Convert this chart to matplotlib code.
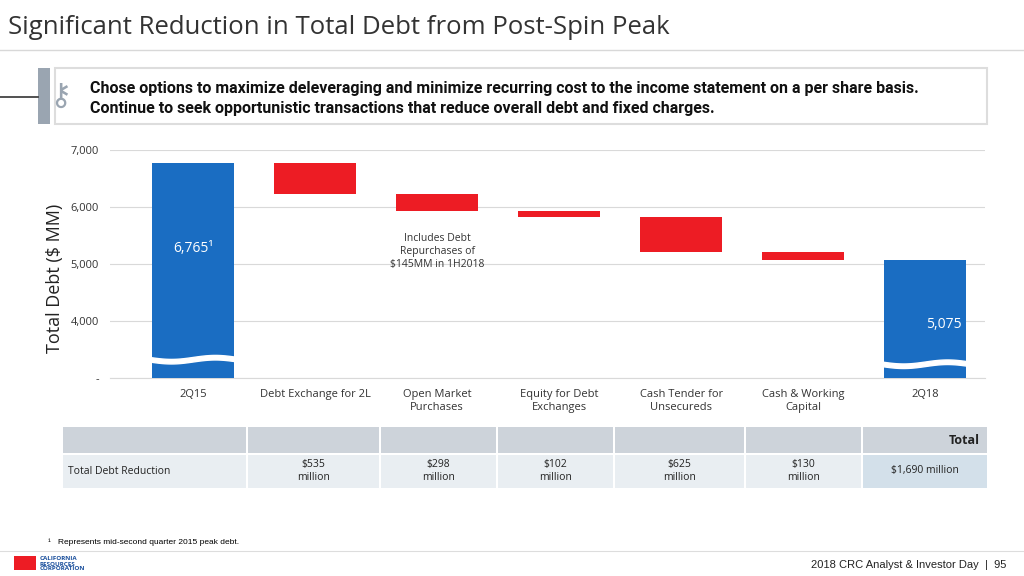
import numpy as np
import matplotlib.pyplot as plt
from matplotlib.patches import Rectangle

categories = ["2Q15", "Debt Exchange for 2L", "Open Market\nPurchases", "Equity for Debt\nExchanges",
              "Cash Tender for\nUnsecureds", "Cash & Working\nCapital", "2Q18"]
start_debt = 6765
reductions = [535, 298, 102, 625, 130]
end_debt = 5075
table_vals = ["$535\nmillion", "$298\nmillion", "$102\nmillion", "$625\nmillion", "$130\nmillion"]
total_text = "$1,690 million"
yticks = [3000, 4000, 5000, 6000, 7000]
ytick_labels = ["-", "4,000", "5,000", "6,000", "7,000"]
BASE = 3000  # broken axis: bottom of chart stands for 0

BLUE = "#1a6dc2"
RED = "#ed1c24"
plt.rcParams["font.family"] = ["Open Sans", "DejaVu Sans"]

fig = plt.figure(figsize=(10.24, 5.76), dpi=100)
W, H = 1024, 576


def fx(px):
    return px / W


def fy(py):
    return 1 - py / H


# header
fig.text(fx(8), fy(28), "Significant Reduction in Total Debt from Post-Spin Peak",
         fontsize=18.5, color="#333333", va="center")
fig.add_artist(plt.Line2D([0, 1], [fy(50), fy(50)], color="#d8d8d8", lw=1))
fig.add_artist(Rectangle((fx(55), fy(124)), fx(932), 56 / H, facecolor="white",
                         edgecolor="#dddddd", lw=1.5))
fig.add_artist(Rectangle((fx(38), fy(124)), fx(12), 56 / H, facecolor="#9aa5b1", lw=0))
fig.add_artist(plt.Line2D([0, fx(38)], [fy(97), fy(97)], color="#333333", lw=1.2))
fig.text(fx(60), fy(96), "\u26b7", fontsize=22, color="#9aa5b1", ha="center", va="center",
         family=["DejaVu Sans"])
fig.text(fx(90), fy(88), "Chose options to maximize deleveraging and minimize recurring cost to the income statement on a per share basis.",
         fontsize=11.5, weight="bold", family=["Roboto"], va="center", color="#111111")
fig.text(fx(90), fy(108), "Continue to seek opportunistic transactions that reduce overall debt and fixed charges.",
         fontsize=11.5, weight="bold", family=["Roboto"], va="center", color="#111111")

# waterfall
ax = fig.add_axes([fx(110), fy(378), fx(875), (378 - 150) / H])
x = np.arange(len(categories))
ax.bar(x[0], start_debt - BASE, bottom=BASE, width=0.67, color=BLUE, zorder=3)
level = start_debt
for i, r in enumerate(reductions):
    ax.bar(x[i + 1], r, bottom=level - r, width=0.67, color=RED, zorder=3)
    level -= r
ax.bar(x[-1], end_debt - BASE, bottom=BASE, width=0.67, color=BLUE, zorder=3)

# axis break waves
for xi, yc in [(0, 3330), (6, 3250)]:
    xs = np.linspace(xi - 0.36, xi + 0.36, 60)
    wave = 35 * np.sin((xs - xi) * 2 * np.pi / 0.72)
    ax.fill_between(xs, yc - 40 + wave, yc + 40 + wave, color="white", zorder=4)

ax.text(0, 5270, "6,765\u00b9", color="white", fontsize=10, ha="center", va="center", zorder=5)
ax.text(6.15, 3930, "5,075", color="white", fontsize=10, ha="center", va="center", zorder=5)
ax.text(2, 5220, "Includes Debt\nRepurchases of\n$145MM in 1H2018", fontsize=7.5,
        ha="center", va="center", linespacing=1.3, color="#333333")

ax.set_xlim(-0.68, 6.49)
ax.set_ylim(BASE, 7000)
ax.set_yticks(yticks)
ax.set_yticklabels(ytick_labels)
ax.set_xticks(x)
ax.set_xticklabels(categories)
ax.tick_params(length=0, labelsize=8, colors="#333333", pad=8)
ax.grid(axis="y", color="#d9d9d9", lw=0.8, zorder=0)
for s in ax.spines.values():
    s.set_visible(False)
ax.spines["bottom"].set_visible(True)
ax.spines["bottom"].set_color("#d9d9d9")
fig.text(fx(55), fy(278), "Total Debt ($ MM)", rotation=90, fontsize=13, ha="center", va="center",
         color="#222222")

# table
cols = [62, 247, 380, 497, 614, 745, 862, 988]
for i in range(len(cols) - 1):
    fig.add_artist(Rectangle((fx(cols[i] + 1), fy(453)), fx(cols[i + 1] - cols[i] - 2), 26 / H,
                             facecolor="#cdd3da", lw=0))
    face = "#d3e0ea" if i == len(cols) - 2 else "#e9eef2"
    fig.add_artist(Rectangle((fx(cols[i] + 1), fy(488)), fx(cols[i + 1] - cols[i] - 2), 33 / H,
                             facecolor=face, lw=0))
fig.text(fx(980), fy(440), "Total", fontsize=9, weight="bold", ha="right", va="center", color="#222222")
fig.text(fx(68), fy(471), "Total Debt Reduction", fontsize=7.5, va="center", color="#222222")
for i, v in enumerate(table_vals):
    fig.text(fx((cols[i + 1] + cols[i + 2]) / 2), fy(471), v, fontsize=7.5, ha="center",
             va="center", color="#222222", linespacing=1.3)
fig.text(fx(925), fy(471), total_text, fontsize=7.5, ha="center", va="center", color="#222222")

# footer
fig.text(fx(48), fy(542), "\u00b9   Represents mid-second quarter 2015 peak debt.", fontsize=6,
         va="center", family=["Liberation Sans"])
fig.add_artist(plt.Line2D([0, 1], [fy(551), fy(551)], color="#dddddd", lw=0.8))
fig.text(fx(40), fy(564), "CALIFORNIA\nRESOURCES\nCORPORATION", fontsize=4.5, color="#1a4f9c",
         weight="bold", va="center", linespacing=1.0)
fig.add_artist(Rectangle((fx(14), fy(570)), fx(22), 14 / H, facecolor=RED, lw=0))
fig.text(fx(1006), fy(565), "2018 CRC Analyst & Investor Day  |  95", fontsize=8, ha="right",
         va="center", family=["Liberation Sans"], color="#222222")

fig.savefig("out.png", dpi=100)
